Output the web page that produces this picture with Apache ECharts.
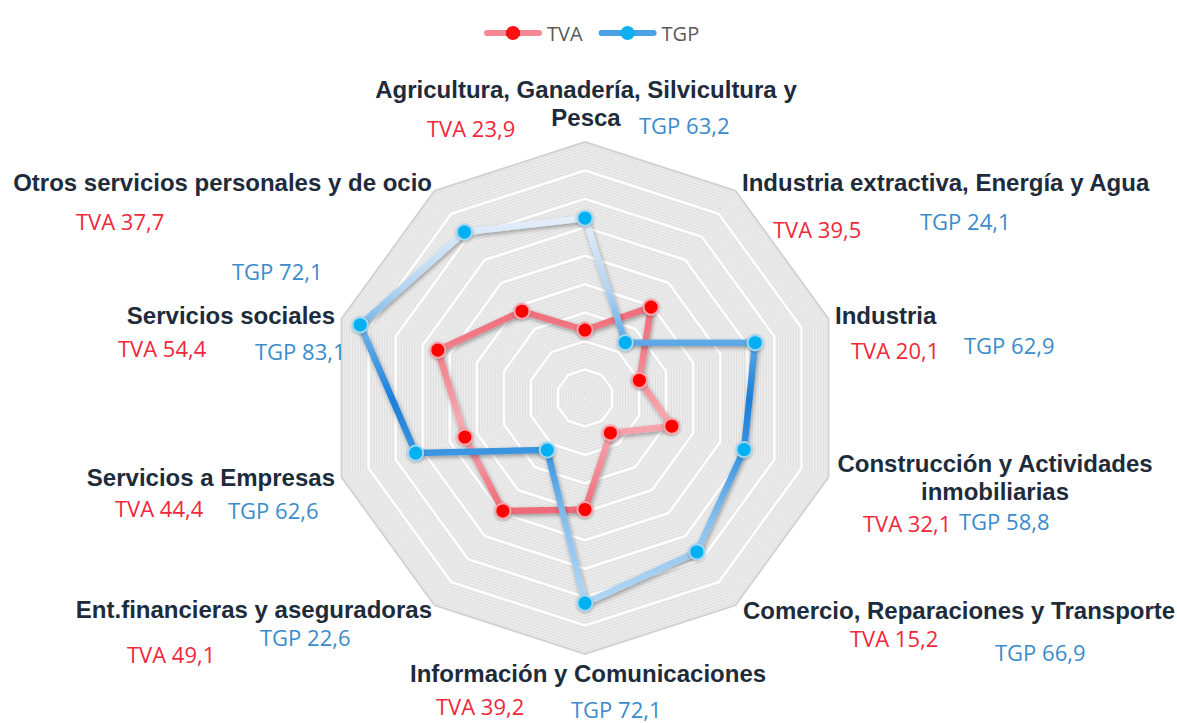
<!DOCTYPE html>
<html>
<head>
<meta charset="utf-8">
<script src="https://cdn.jsdelivr.net/npm/echarts@6/dist/echarts.min.js"></script>
<style>
html,body{margin:0;padding:0;background:#ffffff;}
#chart{width:1177px;height:723px;}
</style>
</head>
<body>
<div id="chart"></div>
<script>
// ---- data (clockwise from the top) ----
const categories = [
  'Agricultura, Ganadería, Silvicultura y\nPesca',
  'Industria extractiva, Energía y Agua',
  'Industria',
  'Construcción y Actividades\ninmobiliarias',
  'Comercio, Reparaciones y Transporte',
  'Información y Comunicaciones',
  'Ent.financieras y aseguradoras',
  'Servicios a Empresas',
  'Servicios sociales',
  'Otros servicios personales y de ocio'
];
const tvaValues = [23.9, 39.5, 20.1, 32.1, 15.2, 39.2, 49.1, 44.4, 54.4, 37.7];
const tgpValues = [63.2, 24.1, 62.9, 58.8, 66.9, 72.1, 22.6, 62.6, 83.1, 72.1];
const seriesNames = ['TVA', 'TGP'];
const axisMax = 90;
const majorSplits = 9;
const minorSplits = 90;

// ---- layout (positions of the text blocks) ----
const labelLayout = [
  {name: [586, 103, 'center'], tva: [427, 128], tgp: [639, 125]},
  {name: [742, 182, 'left'],   tva: [773, 229], tgp: [920, 221]},
  {name: [835, 315, 'left'],   tva: [851, 350], tgp: [964, 345]},
  {name: [995, 477, 'center'], tva: [863, 523], tgp: [959, 521]},
  {name: [743, 610, 'left'],   tva: [850, 638], tgp: [995, 652]},
  {name: [410, 673, 'left'],   tva: [436, 706], tgp: [571, 709]},
  {name: [432, 609, 'right'],  tva: [127, 654], tgp: [260, 637]},
  {name: [335, 477, 'right'],  tva: [115, 508], tgp: [228, 510]},
  {name: [335, 315, 'right'],  tva: [118, 348], tgp: [255, 351]},
  {name: [432, 182, 'right'],  tva: [76, 221],  tgp: [232, 271]}
];

const NAME_COLOR = '#1d2b3b';
const TVA_COLOR = '#f0283a';
const TGP_COLOR = '#3a8bcb';
const CENTER = [585, 398];
const RADIUS = 256;

// ECharts radar places indicators counter-clockwise: reorder so they run clockwise
const order = [0].concat(categories.map((c, i) => i).slice(1).reverse());
const indicators = order.map(i => ({name: categories[i].replace('\n', ' '), min: 0, max: axisMax}));

const fmt = v => v.toFixed(1).replace('.', ',');

const graphics = [];
categories.forEach((cat, i) => {
  const L = labelLayout[i];
  graphics.push({
    type: 'text', x: L.name[0], y: L.name[1], silent: true, z: 10,
    style: {
      text: cat, fill: NAME_COLOR,
      font: 'bold 24px "Liberation Sans", Arial, sans-serif',
      align: L.name[2], verticalAlign: 'middle',
      textAlign: L.name[2], textVerticalAlign: 'middle',
      lineHeight: 28
    }
  });
  graphics.push({
    type: 'text', x: L.tva[0], y: L.tva[1], silent: true, z: 10,
    style: {
      text: seriesNames[0] + ' ' + fmt(tvaValues[i]), fill: TVA_COLOR,
      font: '22px "Open Sans", sans-serif',
      align: 'left', verticalAlign: 'middle',
      textAlign: 'left', textVerticalAlign: 'middle'
    }
  });
  graphics.push({
    type: 'text', x: L.tgp[0], y: L.tgp[1], silent: true, z: 10,
    style: {
      text: seriesNames[1] + ' ' + fmt(tgpValues[i]), fill: TGP_COLOR,
      font: '22px "Open Sans", sans-serif',
      align: 'left', verticalAlign: 'middle',
      textAlign: 'left', textVerticalAlign: 'middle'
    }
  });
});

const lin = (stops) => ({type: 'linear', x: 0, y: 0, x2: 0, y2: 1,
  colorStops: stops.map(s => ({offset: s[0], color: s[1]}))});
const hlin = (stops) => ({type: 'linear', x: 0, y: 0, x2: 1, y2: 0,
  colorStops: stops.map(s => ({offset: s[0], color: s[1]}))});

const tvaLine = lin([[0, '#ef6d7b'], [0.3, '#f38792'], [0.55, '#f7a8b0'], [0.8, '#f38b96'], [1, '#ef6a78']]);
const tgpLine = lin([[0, '#e4eef9'], [0.18, '#b5d5f1'], [0.32, '#5ea9e7'], [0.47, '#1a7fd9'],
                     [0.62, '#3e97e2'], [0.8, '#8cc2ee'], [1, '#b3d7f3']]);

const legendIcon = 'path://M3,4 L55,4 A3,3 0 0 1 55,10 L3,10 A3,3 0 0 1 3,4 Z M36,7 A7,7 0 1 1 22,7 A7,7 0 1 1 36,7 Z';
const legendColors = [
  hlin([[0, '#f58a95'], [0.37, '#f58a95'], [0.38, '#ff1010'], [0.62, '#ff1010'], [0.63, '#f58a95'], [1, '#f58a95']]),
  hlin([[0, '#4aa2e6'], [0.37, '#4aa2e6'], [0.38, '#10b0f0'], [0.62, '#10b0f0'], [0.63, '#4aa2e6'], [1, '#4aa2e6']])
];

const majorLineColors = [];
for (let k = 0; k <= majorSplits; k++) majorLineColors.push(k === majorSplits ? '#d2d2d2' : '#ffffff');

const chart = echarts.init(document.getElementById('chart'), null, {renderer: 'svg'});
chart.setOption({
  backgroundColor: '#ffffff',
  animation: false,
  legend: {
    data: seriesNames.map((n, k) => ({name: n, icon: legendIcon, itemStyle: {color: legendColors[k], borderWidth: 0}})),
    left: 479, top: 18,
    itemWidth: 58, itemHeight: 14, itemGap: 16,
    selectedMode: false,
    textStyle: {fontFamily: '"Open Sans", sans-serif', fontSize: 20, color: '#595959'}
  },
  radar: [
    {
      center: CENTER, radius: RADIUS, shape: 'polygon', startAngle: 90,
      splitNumber: minorSplits, indicator: indicators,
      axisName: {show: false},
      axisLine: {show: false}, axisTick: {show: false}, axisLabel: {show: false},
      splitLine: {show: true, lineStyle: {color: '#dedede', width: 1}},
      splitArea: {show: true, areaStyle: {color: ['#ececec']}}
    },
    {
      center: CENTER, radius: RADIUS, shape: 'polygon', startAngle: 90,
      splitNumber: majorSplits, indicator: indicators,
      axisName: {show: false},
      axisLine: {show: false}, axisTick: {show: false}, axisLabel: {show: false},
      splitLine: {show: true, lineStyle: {color: majorLineColors, width: 2}},
      splitArea: {show: false}
    }
  ],
  series: [
    {
      type: 'radar', radarIndex: 1, name: seriesNames[0], z: 3,
      symbol: 'circle', symbolSize: 15,
      lineStyle: {width: 6.5, color: tvaLine, shadowColor: 'rgba(0,0,0,0.35)', shadowBlur: 4, shadowOffsetX: 1, shadowOffsetY: 2},
      itemStyle: {color: '#ff0000', borderColor: '#f7a4ab', borderWidth: 2, shadowColor: 'rgba(0,0,0,0.3)', shadowBlur: 3, shadowOffsetY: 1},
      data: [{name: seriesNames[0], value: order.map(i => tvaValues[i])}]
    },
    {
      type: 'radar', radarIndex: 1, name: seriesNames[1], z: 4,
      symbol: 'circle', symbolSize: 15,
      lineStyle: {width: 6.5, color: tgpLine, shadowColor: 'rgba(0,0,0,0.35)', shadowBlur: 4, shadowOffsetX: 1, shadowOffsetY: 2},
      itemStyle: {color: '#00b0f0', borderColor: '#9fd6f5', borderWidth: 2, shadowColor: 'rgba(0,0,0,0.3)', shadowBlur: 3, shadowOffsetY: 1},
      data: [{name: seriesNames[1], value: order.map(i => tgpValues[i])}]
    }
  ],
  graphic: graphics
});
</script>
</body>
</html>
